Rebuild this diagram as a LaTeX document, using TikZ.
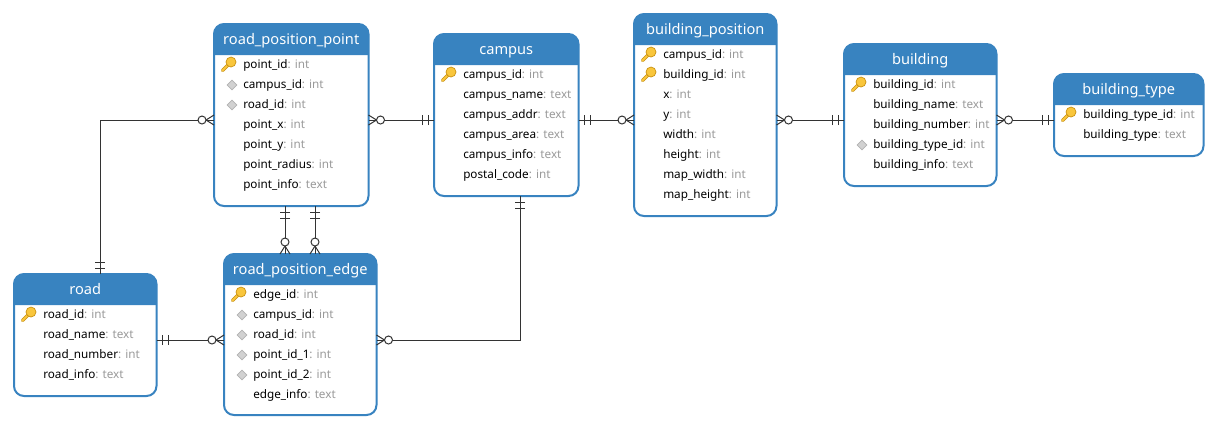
\documentclass[tikz,border=0pt]{standalone}
\usepackage{fontspec}
\setmainfont{Noto Sans}
\usetikzlibrary{shapes.geometric}
\definecolor{tablehead}{HTML}{3883C0}
\definecolor{typegray}{HTML}{9A9A9A}
\definecolor{relgray}{HTML}{333333}
\definecolor{keygold}{HTML}{F9C63C}
\definecolor{keyedge}{HTML}{C8900F}
\tikzset{
  tablebox/.style={rectangle,draw=tablehead,line width=1.5pt,rounded corners=7.5pt,anchor=north west,inner sep=0pt,outer sep=0pt},
  tabletitle/.style={anchor=base,text=white,inner sep=0pt,font=\fontsize{10.95}{13}\selectfont},
  tablerow/.style={anchor=base west,inner sep=0pt,font=\fontsize{8.8}{11}\selectfont},
  relline/.style={draw=relgray,line width=0.75pt},
  oneend/.pic={\draw[relgray,line width=0.75pt] (6,-5) -- (6,5) (12,-5) -- (12,5);},
  manyend/.pic={\draw[relgray,line width=0.75pt] (0,-5) -- (8,0) -- (0,5);
    \draw[relgray,line width=0.75pt,fill=white] (12,0) circle[radius=4];},
  keymark/.pic={\draw[keyedge,line width=2.6pt,line cap=round] (-12,-2) -- (-20.5,6.5);
    \draw[keygold,line width=1.5pt,line cap=round] (-12,-2) -- (-20.5,6.5);
    \draw[keyedge,line width=0.5pt,fill=keygold] (-12,-2) circle[radius=5];},
  fkmark/.pic={\node[diamond,draw=black!30,fill=black!18,line width=0.5pt,minimum size=7.5pt,inner sep=0pt] at (-11,1) {};},
  nomark/.pic={}
}
% x y w h in pixels of the reference
\newcommand{\dbtable}[7]{
  \node[tablebox,minimum width=#4*0.75pt,minimum height=#5*0.75pt] (#1) at (#2,#3) {};
  \fill[tablehead] (#2,#3+31) [rounded corners=7.5pt] |- (#2+#4,#3) -- (#2+#4,#3+31);
  \node[tabletitle] (#1-title) at (#2+#4/2,#3+20) {#6};
  \foreach \fname/\ftype/\fmark [count=\i] in {#7} {
    \pic at (#2+29,#3+20+20*\i) {\fmark};
    \node[tablerow] (#1-\i) at (#2+29,#3+24+20*\i) {\fname\textcolor{typegray}{: \ftype}};
  }
}

\begin{document}
\begin{tikzpicture}[x=0.75pt,y=-0.75pt]
\useasboundingbox (0,0) rectangle (1217,430);
\dbtable{point}{214}{24}{154.5}{182}{road\_position\_point}{point\_id/int/keymark,campus\_id/int/fkmark,road\_id/int/fkmark,point\_x/int/nomark,point\_y/int/nomark,point\_radius/int/nomark,point\_info/text/nomark}
\dbtable{edge}{224}{254}{152.5}{161}{road\_position\_edge}{edge\_id/int/keymark,campus\_id/int/fkmark,road\_id/int/fkmark,point\_id\_1/int/fkmark,point\_id\_2/int/fkmark,edge\_info/text/nomark}
\dbtable{road}{14}{274}{142.5}{122}{road}{road\_id/int/keymark,road\_name/text/nomark,road\_number/int/nomark,road\_info/text/nomark}
\dbtable{campus}{434}{34}{144.5}{162}{campus}{campus\_id/int/keymark,campus\_name/text/nomark,campus\_addr/text/nomark,campus\_area/text/nomark,campus\_info/text/nomark,postal\_code/int/nomark}
\dbtable{bposition}{634}{14}{142.5}{202}{building\_position}{campus\_id/int/keymark,building\_id/int/keymark,x/int/nomark,y/int/nomark,width/int/nomark,height/int/nomark,map\_width/int/nomark,map\_height/int/nomark}
\dbtable{building}{844}{44}{152.5}{142}{building}{building\_id/int/keymark,building\_name/text/nomark,building\_number/int/nomark,building\_type\_id/int/fkmark,building\_info/text/nomark}
\dbtable{btype}{1054}{74}{149.5}{82}{building\_type}{building\_type\_id/int/keymark,building\_type/text/nomark}

\draw[relline] ([xshift=11.0625pt]road.north) pic[rotate=90]{oneend} |- ([yshift=-3.75pt]point.west) pic[rotate=180]{manyend};
\draw[relline] ([yshift=-3.75pt]point.east) pic{manyend} -- ([yshift=-3.75pt]campus.west) pic[rotate=180]{oneend};
\draw[relline] ([yshift=-3.75pt]campus.east) pic{oneend} -- ([yshift=-3.75pt]bposition.west) pic[rotate=180]{manyend};
\draw[relline] ([yshift=-3.75pt]bposition.east) pic{manyend} -- ([yshift=-3.75pt]building.west) pic[rotate=180]{oneend};
\draw[relline] ([yshift=-3.75pt]building.east) pic{manyend} -- ([yshift=-3.75pt]btype.west) pic[rotate=180]{oneend};
\draw[relline] ([xshift=-4.6875pt]point.south) pic[rotate=-90]{oneend} -- ([xshift=-4.6875pt]point.south |- edge.north) pic[rotate=90]{manyend};
\draw[relline] ([xshift=17.8125pt]point.south) pic[rotate=-90]{oneend} -- ([xshift=17.8125pt]point.south |- edge.north) pic[rotate=90]{manyend};
\draw[relline] ([yshift=-3.75pt]road.east) pic{oneend} -- ([yshift=-4.125pt]edge.west) pic[rotate=180]{manyend};
\draw[relline] ([yshift=-4.125pt]edge.east) pic{manyend} -| ([xshift=10.3125pt]campus.south) pic[rotate=-90]{oneend};
\end{tikzpicture}
\end{document}
